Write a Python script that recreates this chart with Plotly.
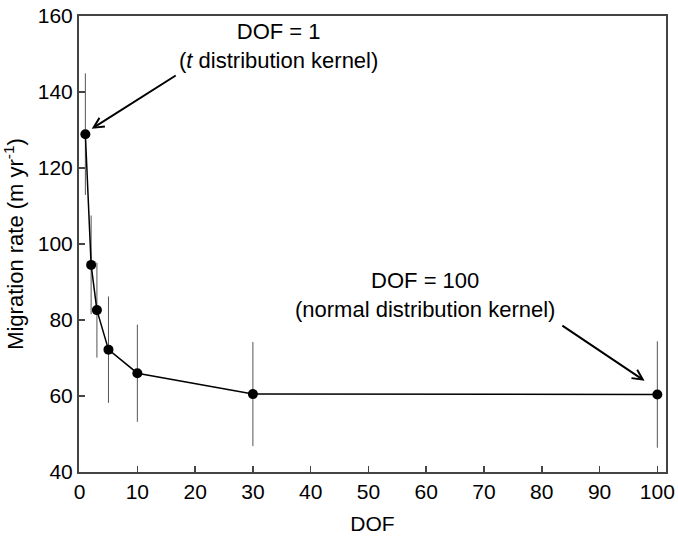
import plotly.graph_objects as go

dof = [1, 2, 3, 5, 10, 30, 100]
rate = [128.9, 94.5, 82.6, 72.2, 66.0, 60.5, 60.4]
err = [16.0, 13.0, 12.5, 14.0, 12.8, 13.7, 14.0]
x_ticks = [0, 10, 20, 30, 40, 50, 60, 70, 80, 90, 100]
y_ticks = [40, 60, 80, 100, 120, 140, 160]

FONT = "Liberation Sans, Arial, Helvetica, sans-serif"

fig = go.Figure()
fig.add_trace(go.Scatter(
    x=dof, y=rate, mode="lines+markers",
    line=dict(color="black", width=1.5),
    marker=dict(color="black", size=10),
    error_y=dict(type="data", array=err, visible=True, color="#555555",
                 thickness=1, width=0),
    showlegend=False, hoverinfo="skip",
))

axis_common = dict(
    showline=True, linecolor="#444444", linewidth=2, mirror=True,
    ticks="inside", ticklen=6, tickwidth=1.5, tickcolor="#444444",
    showgrid=False, zeroline=False, automargin=False,
    tickfont=dict(family=FONT, size=21, color="black"),
)

fig.update_xaxes(range=[-0.1, 101.5], tickvals=x_ticks,
                 title=dict(text="DOF", font=dict(family=FONT, size=21, color="black"), standoff=14),
                 **axis_common)
fig.update_yaxes(range=[40, 160], tickvals=y_ticks,
                 title=dict(text="Migration rate (m yr<sup>-1</sup>)",
                            font=dict(family=FONT, size=22, color="black"), standoff=8),
                 **axis_common)

annot_font = dict(family=FONT, size=22, color="black")
fig.add_annotation(x=34.4, y=152.2, xref="x", yref="y",
                   text="DOF = 1<br>(<i>t</i> distribution kernel)",
                   showarrow=False, font=annot_font, align="center")
fig.add_annotation(x=59.8, y=86.7, xref="x", yref="y",
                   text="DOF = 100<br>(normal distribution kernel)",
                   showarrow=False, font=annot_font, align="center")
fig.add_annotation(x=2.1, y=130.3, ax=16.9, ay=144.6, xref="x", yref="y",
                   axref="x", ayref="y", text="", showarrow=True,
                   arrowhead=5, arrowsize=1, arrowwidth=2, arrowcolor="black")
fig.add_annotation(x=97.8, y=64.0, ax=83.3, ay=78.8, xref="x", yref="y",
                   axref="x", ayref="y", text="", showarrow=True,
                   arrowhead=5, arrowsize=1, arrowwidth=2, arrowcolor="black")

fig.update_layout(
    width=678, height=538,
    margin=dict(l=79, r=12, t=16, b=66),
    paper_bgcolor="white", plot_bgcolor="white",
    font=dict(family=FONT, color="black"),
    hovermode=False,
)

fig.write_html("out.html",
               config={"displayModeBar": False, "staticPlot": True},
               post_script="document.body.style.margin='0px';document.body.style.overflow='hidden';")
